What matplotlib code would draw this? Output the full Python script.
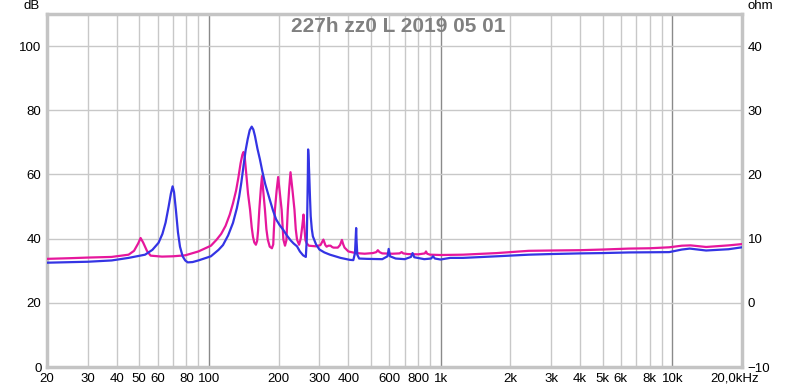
import matplotlib.pyplot as plt
import matplotlib.transforms as mtransforms
import numpy as np

plt.rcParams['font.family'] = ['Liberation Sans', 'DejaVu Sans']

# magenta trace (Hz, dB)
mag_f = [20, 25, 30, 38, 45, 47.5, 49.5, 50.7, 52, 54, 56, 62.7, 70, 79, 90, 102, 108,
         113, 118, 123, 127, 131, 134, 137, 139.5, 141, 142.5, 145, 147.5, 150.5, 153,
         155, 157, 159.5, 161.5, 163, 165, 167.5, 169.5, 171.5, 174.5, 177, 179.5, 183,
         187, 189.5, 190.5, 192.7, 196, 199, 202.5, 206, 209.6, 213, 216, 219, 222, 225,
         229.5, 234, 237, 240, 245, 249, 253, 256, 258.5, 261, 264, 270, 290, 303, 312,
         318, 322, 328, 335, 340, 345, 360, 368, 375, 380, 385, 400, 430, 470, 510, 528,
         536, 545, 560, 620, 665, 679, 690, 720, 800, 855, 865, 875, 900, 1000, 1250,
         1750, 2400, 3000, 4000, 5000, 6500, 8000, 9700, 11000, 12000, 14000, 17500, 20000]
mag_db = [33.7, 33.9, 34.1, 34.3, 35.0, 36.2, 38.5, 40.2, 38.8, 36.2, 34.7, 34.4, 34.5,
          34.8, 36.0, 37.8, 39.7, 41.5, 44.0, 47.5, 51.0, 55.0, 59.0, 63.5, 66.2, 67.0,
          66.0, 60.0, 54.0, 49.0, 43.5, 40.5, 38.8, 38.1, 39.3, 42.5, 49.0, 55.5, 59.5,
          55.0, 49.0, 43.0, 39.7, 37.5, 37.0, 38.2, 42.0, 49.0, 55.0, 59.2, 54.0, 49.0,
          39.7, 37.8, 39.5, 49.0, 55.5, 60.7, 55.0, 49.0, 43.0, 39.7, 38.1, 40.0, 44.0,
          47.5, 43.0, 39.5, 38.6, 37.8, 37.6, 38.0, 39.7, 38.0, 37.5, 37.8, 37.8, 37.4,
          37.2, 37.2, 38.0, 39.6, 38.2, 37.2, 36.0, 35.5, 35.3, 35.5, 35.8, 36.4, 35.8,
          35.4, 35.3, 35.4, 35.8, 35.4, 35.2, 35.1, 35.4, 36.0, 35.3, 35.0, 34.9, 35.0,
          35.5, 36.2, 36.3, 36.4, 36.6, 36.9, 37.0, 37.3, 37.8, 37.9, 37.4, 37.9, 38.3]

# blue trace (Hz, dB)
blu_f = [20, 30, 38, 45, 53, 57, 60.6, 63, 65, 67, 68.5, 69.7, 70.7, 72, 73.5, 75, 77,
         79, 81, 85, 90, 102, 110, 115, 121, 127, 132, 135, 138, 141, 144, 147, 150, 153,
         155.5, 158, 162, 166, 170, 175, 183, 189, 195, 202, 209, 217, 225, 232, 240, 247,
         255, 262, 264.5, 266, 267.3, 268, 269, 271, 273, 275, 278, 281, 290, 300, 315,
         333, 370, 405, 420, 427, 432, 434, 437, 445, 480, 560, 590, 597, 605, 640, 700,
         745, 757, 770, 850, 910, 927, 945, 1000, 1100, 1250, 1750, 2400, 3000, 4000,
         5000, 6500, 9700, 11000, 11900, 14000, 17500, 20000]
blu_db = [32.5, 32.8, 33.2, 34.0, 35.0, 36.5, 38.7, 41.5, 45.0, 50.0, 54.0, 56.3, 54.5,
          49.0, 42.0, 37.5, 34.5, 33.2, 32.6, 32.7, 33.2, 34.5, 36.5, 38.0, 41.0, 44.9,
          49.5, 53.0, 57.5, 62.6, 67.5, 71.0, 73.8, 74.9, 74.0, 72.0, 68.0, 64.7, 61.0,
          57.0, 52.2, 48.8, 46.0, 44.2, 42.8, 41.0, 39.5, 38.5, 37.6, 36.0, 34.8, 34.3,
          40.0, 50.0, 60.0, 67.8, 66.0, 60.0, 53.0, 47.0, 43.0, 40.7, 38.2, 36.6, 35.7,
          35.0, 34.0, 33.4, 33.3, 35.5, 43.3, 39.0, 35.0, 33.8, 33.7, 33.6, 34.5, 36.8,
          34.5, 33.8, 33.6, 34.3, 35.5, 34.2, 33.6, 33.8, 34.5, 33.8, 33.5, 34.0, 34.0,
          34.5, 35.0, 35.2, 35.4, 35.5, 35.7, 35.8, 36.6, 36.9, 36.3, 36.7, 37.3]

xticks = [20, 30, 40, 50, 60, 80, 100, 200, 300, 400, 600, 800, 1000, 2000, 3000,
          4000, 5000, 6000, 8000, 10000, 20000]
xlabels = ['20', '30', '40', '50', '60', '80', '100', '200', '300', '400', '600', '800',
           '1k', '2k', '3k', '4k', '5k', '6k', '8k', '10k', '20,0kHz']
yticks = [0, 20, 40, 60, 80, 100]
rticks = [-10, 0, 10, 20, 30, 40]

fig = plt.figure(figsize=(8, 3.88), dpi=100)
ax = fig.add_axes([47/800, 21/388, 695/800, 353/388])

# grid
minor = [f * d for d in (10, 100, 1000) for f in range(2, 10)]
for f in minor:
    if 20 < f < 20000:
        ax.axvline(f, color='#c8c8c8', lw=1, zorder=0)
for f in (100, 1000, 10000):
    ax.axvline(f, color='#8a8a8a', lw=1, zorder=0)
for y in yticks[1:]:
    ax.axhline(y, color='#c8c8c8', lw=1, zorder=0)

ax.plot(mag_f, mag_db, color='#e6179c', lw=1.6, zorder=3)
ax.plot(blu_f, blu_db, color='#3434e4', lw=1.6, zorder=4)

ax.set_xscale('log')
ax.set_xlim(20, 20000)
ax.set_ylim(0, 110)
ax.minorticks_off()
ax.set_xticks(xticks)
ax.set_xticklabels(xlabels)
ax.set_yticks(yticks)
ax.tick_params(length=0, labelsize=9.5, pad=4)
for s in ax.spines.values():
    s.set_color('#c4c4c4')
    s.set_linewidth(2.5)

# last x label sits a bit to the left
lab = ax.get_xticklabels()[-1]
lab.set_transform(lab.get_transform() +
                  mtransforms.ScaledTranslation(-7/100, 0, fig.dpi_scale_trans))

ax2 = ax.twinx()
ax2.set_ylim(-10, 45)
ax2.set_yticks(rticks)
ax2.tick_params(length=0, labelsize=9.5, pad=4)
for s in ax2.spines.values():
    s.set_visible(False)

fig.text(32/800, 1 - 6/388, 'dB', fontsize=9.5, ha='center', va='center')
fig.text(760/800, 1 - 6/388, 'ohm', fontsize=9.5, ha='center', va='center')
fig.text(398/800, 1 - 26/388, '227h zz0 L 2019 05 01', fontsize=15, fontweight='bold',
         color='#808080', ha='center', va='center')

plt.savefig('out.png', dpi=100)
